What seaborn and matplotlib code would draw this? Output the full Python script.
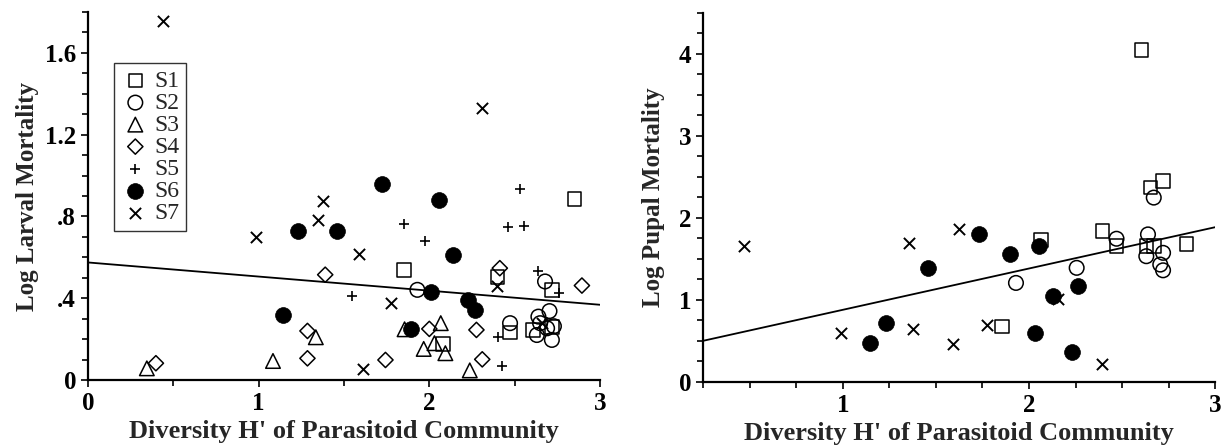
import numpy as np
import pandas as pd
import seaborn as sns
import matplotlib.pyplot as plt
from matplotlib.ticker import MultipleLocator

# Larval mortality vs diversity, one list per site
larval_h = {
    "S1": [1.853, 2.85, 2.40, 2.72, 2.08, 2.473, 2.606, 2.72],
    "S2": [1.93, 2.678, 2.473, 2.704, 2.639, 2.649, 2.63, 2.718, 2.69, 2.73],
    "S3": [0.345, 1.084, 1.335, 1.855, 1.967, 2.067, 2.03, 2.094, 2.237],
    "S4": [0.398, 1.286, 1.286, 1.39, 1.743, 2.0, 2.276, 2.31, 2.413, 2.894],
    "S5": [1.545, 1.85, 1.974, 2.53, 2.459, 2.555, 2.635, 2.76, 2.404, 2.424],
    "S6": [1.14, 1.23, 1.457, 1.724, 1.894, 2.01, 2.055, 2.139, 2.227, 2.266],
    "S7": [0.44, 0.986, 1.345, 1.375, 1.586, 1.61, 1.776, 2.31, 2.394, 2.66],
}
larval_y = {
    "S1": [0.539, 0.885, 0.503, 0.441, 0.176, 0.232, 0.245, 0.26],
    "S2": [0.441, 0.482, 0.278, 0.337, 0.31, 0.278, 0.22, 0.196, 0.253, 0.263],
    "S3": [0.057, 0.093, 0.209, 0.248, 0.152, 0.278, 0.18, 0.131, 0.047],
    "S4": [0.082, 0.24, 0.106, 0.515, 0.098, 0.25, 0.245, 0.101, 0.547, 0.462],
    "S5": [0.413, 0.765, 0.681, 0.935, 0.747, 0.755, 0.531, 0.425, 0.209, 0.07],
    "S6": [0.319, 0.727, 0.73, 0.959, 0.248, 0.43, 0.882, 0.613, 0.391, 0.34],
    "S7": [1.755, 0.70, 0.784, 0.874, 0.616, 0.054, 0.379, 1.333, 0.458, 0.28],
}

# Pupal mortality vs diversity
pupal_h = {
    "S1": [2.064, 1.854, 2.395, 2.47, 2.845, 2.63, 2.67, 2.652, 2.72, 2.604],
    "S2": [1.93, 2.256, 2.47, 2.639, 2.63, 2.72, 2.705, 2.72, 2.67],
    "S6": [1.457, 1.234, 1.148, 1.729, 1.898, 2.055, 2.261, 2.13, 2.032, 2.232],
    "S7": [0.47, 1.354, 0.988, 1.377, 1.622, 2.157, 1.773, 1.591, 2.393],
}
pupal_y = {
    "S1": [1.728, 0.674, 1.838, 1.654, 1.684, 1.654, 1.654, 2.37, 2.45, 4.045],
    "S2": [1.206, 1.39, 1.745, 1.798, 1.532, 1.573, 1.43, 1.36, 2.247],
    "S6": [1.39, 0.723, 0.47, 1.806, 1.553, 1.654, 1.164, 1.05, 0.60, 0.36],
    "S7": [1.654, 1.696, 0.593, 0.646, 1.868, 1.01, 0.695, 0.462, 0.213],
}

# fitted lines (intercept, slope)
larval_fit = (0.575, -0.069)
pupal_fit = (0.374, 0.504)

sites = ["S1", "S2", "S3", "S4", "S5", "S6", "S7"]
marker_style = {
    "S1": dict(marker="s", s=95, facecolor="none", edgecolor="black", linewidth=1.1),
    "S2": dict(marker="o", s=110, facecolor="none", edgecolor="black", linewidth=1.1),
    "S3": dict(marker="^", s=110, facecolor="none", edgecolor="black", linewidth=1.1),
    "S4": dict(marker="D", s=60, facecolor="none", edgecolor="black", linewidth=1.1),
    "S5": dict(marker="+", s=55, color="black", linewidth=1.2),
    "S6": dict(marker="o", s=130, color="black", edgecolor="black", linewidth=0.5),
    "S7": dict(marker="x", s=65, color="black", linewidth=1.4),
}

sns.set_style("ticks")
plt.rcParams["font.family"] = ["Liberation Serif", "DejaVu Serif"]

fig = plt.figure(figsize=(12.25, 4.46), dpi=100)
ax1 = fig.add_axes([0.0718, 0.148, 0.418, 0.825])
ax2 = fig.add_axes([0.574, 0.144, 0.418, 0.827])


def draw_panel(ax, hvals, yvals, fit, xlim):
    for site in sites:
        if site not in hvals:
            continue
        df = pd.DataFrame({"H": hvals[site], "mort": yvals[site]})
        sns.scatterplot(data=df, x="H", y="mort", ax=ax, label=site,
                        zorder=3, **marker_style[site])
    xs = np.array(xlim)
    ax.plot(xs, fit[0] + fit[1] * xs, color="black", linewidth=1.3, zorder=2)
    ax.set_xlim(*xlim)
    for side in ["top", "right"]:
        ax.spines[side].set_visible(False)
    for side in ["left", "bottom"]:
        ax.spines[side].set_linewidth(1.6)
        ax.spines[side].set_color("black")
    ax.tick_params(which="both", direction="out", width=1.2, colors="black",
                   labelsize=18)
    ax.tick_params(which="major", length=5)
    ax.tick_params(which="minor", length=4)
    ax.set_xlabel("Diversity H' of Parasitoid Community", fontsize=19,
                  fontweight="bold", labelpad=4)


# left panel: larval
draw_panel(ax1, larval_h, larval_y, larval_fit, (0, 3))
ax1.set_ylim(0, 1.8)
ax1.set_xticks([0, 1, 2, 3])
ax1.set_xticklabels(["0", "1", "2", "3"], fontweight="bold")
ax1.xaxis.set_minor_locator(MultipleLocator(0.5))
ax1.set_yticks([0, 0.4, 0.8, 1.2, 1.6])
ax1.set_yticklabels(["0", ".4", ".8", "1.2", "1.6"], fontweight="bold")
ax1.yaxis.set_minor_locator(MultipleLocator(0.1))
ax1.set_ylabel("Log Larval Mortality", fontsize=18, fontweight="bold", labelpad=4)
leg = ax1.legend(loc="upper left", bbox_to_anchor=(0.051, 0.861), fontsize=17,
                 frameon=True, fancybox=False, edgecolor="black",
                 labelspacing=0.02, handletextpad=0.2, borderpad=0.3,
                 handlelength=1.2, borderaxespad=0)
leg.get_frame().set_linewidth(1.0)

# right panel: pupal
draw_panel(ax2, pupal_h, pupal_y, pupal_fit, (0.25, 3))
ax2.set_ylim(0, 4.5)
ax2.set_xticks([1, 2, 3])
ax2.set_xticklabels(["1", "2", "3"], fontweight="bold")
ax2.xaxis.set_minor_locator(MultipleLocator(0.25))
ax2.set_yticks([0, 1, 2, 3, 4])
ax2.set_yticklabels(["0", "1", "2", "3", "4"], fontweight="bold")
ax2.yaxis.set_minor_locator(MultipleLocator(0.25))
ax2.set_ylabel("Log Pupal Mortality", fontsize=18, fontweight="bold", labelpad=10)
ax2.get_legend().remove()

fig.savefig("out.png", dpi=100)
